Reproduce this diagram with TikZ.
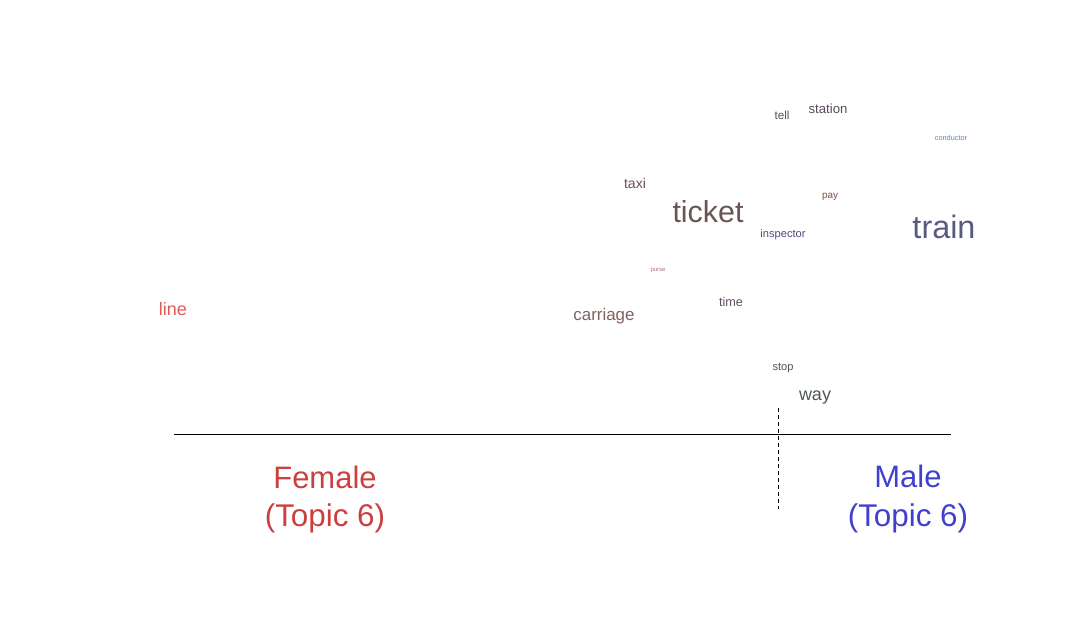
\documentclass[tikz,border=0pt]{standalone}
\usepackage{fontspec}
\setmainfont{Liberation Sans}
\newcommand{\wordsize}[1]{\fontsize{#1}{#1}\selectfont}
\definecolor{femred}{HTML}{CC3F3F}
\definecolor{malblue}{HTML}{4040D0}
\tikzset{
    word/.style={anchor=base, inner sep=0pt},
    axisline/.style={line width=0.9pt, black},
    splitline/.style={line width=0.9pt, black, dash pattern=on 4pt off 3pt}
}
\begin{document}
\begin{tikzpicture}[x=1pt,y=-1pt]
        \useasboundingbox (0,0) rectangle (1088,627);

        \node[word, text=black!68] (tell) at (782, 119) { \wordsize{11.7}tell };
        \node[word, text={rgb,255:red,90;green,74;blue,90}] (station) at (828, 113) { \wordsize{13.2}station };
        \node[word, text={rgb,255:red,96;green,128;blue,192}] (conductor) at (951, 140.5) { \wordsize{7.3}conductor };
        \node[word, text={rgb,255:red,112;green,80;blue,80}] (taxi) at (635, 188) { \wordsize{14.1}taxi };
        \node[word, text={rgb,255:red,122;green,80;blue,64}] (pay) at (830, 198) { \wordsize{9.9}pay };
        \node[word, text={rgb,255:red,106;green,85;blue,85}] (ticket) at (708, 222) { \wordsize{30.4}ticket };
        \node[word, text={rgb,255:red,74;green,74;blue,128}] (inspector) at (783, 237) { \wordsize{11.1}inspector };
        \node[word, text={rgb,255:red,90;green,90;blue,128}] (train) at (944, 238) { \wordsize{32.4}train };
        \node[word, text={rgb,255:red,176;green,112;blue,112}] (purse) at (658, 271.5) { \wordsize{6}purse };
        \node[word, text={rgb,255:red,224;green,90;blue,90}] (line) at (173, 315) { \wordsize{18}line };
        \node[word, text={rgb,255:red,96;green,80;blue,96}] (time) at (731, 306) { \wordsize{12.7}time };
        \node[word, text={rgb,255:red,128;green,96;blue,96}] (carriage) at (604, 320.5) { \wordsize{16.9}carriage };
        \node[word, text=black!68] (stop) at (783, 370.7) { \wordsize{11.1}stop };
        \node[word, text={rgb,255:red,80;green,88;blue,88}] (way) at (815, 400.7) { \wordsize{18}way };

        \coordinate (axisL) at (174, 434);
        \coordinate (axisR) at (951, 434);
        \coordinate (splitT) at (778, 408);
        \coordinate (splitB) at (778, 509);
        \draw[axisline] (axisL) -- (axisR);
        \draw[splitline] (splitT) -- (splitB);

        \node[word, text=femred] (female) at (325, 488) { \wordsize{31}Female };
        \node[word, text=femred] (femtopic) at (325, 526) { \wordsize{31.4}(Topic 6) };
        \node[word, text=malblue] (male) at (908, 487) { \wordsize{31}Male };
        \node[word, text=malblue] (maltopic) at (908, 526) { \wordsize{31.4}(Topic 6) };

    \end{tikzpicture}
\end{document}
